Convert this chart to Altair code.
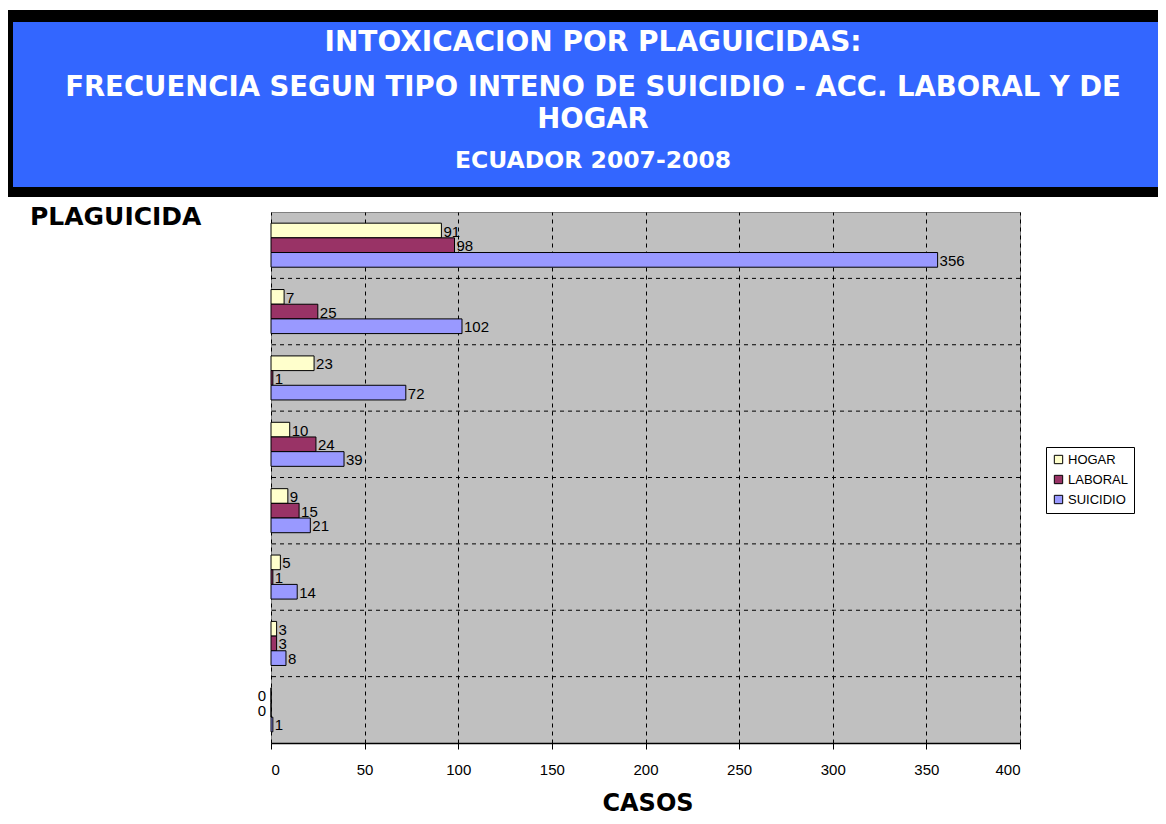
import altair as alt
import pandas as pd

categorias = ["P1", "P2", "P3", "P4", "P5", "P6", "P7", "P8"]
series = ["HOGAR", "LABORAL", "SUICIDIO"]
hogar = [91, 7, 23, 10, 9, 5, 3, 0]
laboral = [98, 25, 1, 24, 15, 1, 3, 0]
suicidio = [356, 102, 72, 39, 21, 14, 8, 1]
x_ticks = [0, 50, 100, 150, 200, 250, 300, 350, 400]

titulo = [
    "INTOXICACION POR PLAGUICIDAS:",
    "FRECUENCIA SEGUN TIPO INTENO DE SUICIDIO - ACC. LABORAL Y DE",
    "HOGAR",
    "ECUADOR 2007-2008",
]

rows = []
for serie, vals in zip(series, [hogar, laboral, suicidio]):
    for c, v in zip(categorias, vals):
        rows.append({"cat": c, "serie": serie, "valor": v})
df = pd.DataFrame(rows)

FONT = "Liberation Sans"
TFONT = "DejaVu Sans"

y_enc = alt.Y("cat:N", scale=alt.Scale(domain=categorias, paddingInner=0, paddingOuter=0), axis=None)
yoff_enc = alt.YOffset("serie:N", scale=alt.Scale(domain=series, paddingInner=0, paddingOuter=0.76))
x_enc = alt.X(
    "valor:Q",
    scale=alt.Scale(domain=[0, 400], nice=False),
    axis=alt.Axis(
        values=x_ticks, grid=True, gridColor="black", gridDash=[4, 4], gridWidth=1,
        domainColor="black", domainWidth=1.5, tickColor="black", tickSize=6,
        labelFont=FONT, labelFontSize=15, labelColor="black", labelPadding=13,
        title=None,
    ),
)

one = alt.Data(values=[{}])

frame = alt.Chart(one).mark_rect(fill="black").encode(
    x=alt.value(-263), x2=alt.value(890), y=alt.value(-202), y2=alt.value(-15))
blue = alt.Chart(one).mark_rect(fill="#3366FF").encode(
    x=alt.value(-258), x2=alt.value(890), y=alt.value(-190), y2=alt.value(-25))

def ttext(txt, y, size, weight="bold"):
    return alt.Chart(one).mark_text(
        text=txt, font=TFONT, fontSize=size, fontWeight=weight, color="white",
        align="center", baseline="middle").encode(x=alt.value(322), y=alt.value(y))

t1 = ttext(titulo[0], -169, 28)
t2 = ttext(titulo[1], -124, 27.5)
t3 = ttext(titulo[2], -92, 27.5)
t4 = ttext(titulo[3], -51, 23.5)

plag = alt.Chart(one).mark_text(
    text="PLAGUICIDA", font=TFONT, fontSize=25, fontWeight="bold", color="black",
    align="left", baseline="middle").encode(x=alt.value(-241), y=alt.value(5))
casos = alt.Chart(one).mark_text(
    text="CASOS", font=TFONT, fontSize=24, fontWeight="bold", color="black",
    align="center", baseline="middle").encode(x=alt.value(377), y=alt.value(592))

hrules = alt.Chart(pd.DataFrame({"cat": categorias[1:]})).mark_rule(
    color="black", strokeDash=[4, 4], strokeWidth=1).encode(
    y=alt.Y("cat:N", bandPosition=0, scale=alt.Scale(domain=categorias, paddingInner=0, paddingOuter=0), axis=None))

bars = alt.Chart(df).mark_bar(stroke="black", strokeWidth=1).encode(
    x=x_enc, y=y_enc, yOffset=yoff_enc,
    color=alt.Color("serie:N", scale=alt.Scale(domain=series, range=["#FFFFCC", "#993366", "#9999FF"]),
                    legend=alt.Legend(title=None)),
)

labels = alt.Chart(df).transform_filter("datum.valor > 0").mark_text(
    align="left", baseline="middle", dx=2, dy=1, font=FONT, fontSize=15, color="black").encode(
    x="valor:Q", y=y_enc, yOffset=yoff_enc, text="valor:Q")
zlabels = alt.Chart(df).transform_filter("datum.valor == 0").mark_text(
    align="right", baseline="middle", dx=-5, dy=1, font=FONT, fontSize=15, color="black").encode(
    x="valor:Q", y=y_enc, yOffset=yoff_enc, text="valor:Q")

chart = alt.layer(frame, blue, t1, t2, t3, t4, plag, casos, hrules, bars, labels, zlabels).properties(
    width=749, height=531,
    autosize=alt.AutoSizeParams(type="none"),
    padding={"left": 263, "top": 204, "right": 138, "bottom": 76},
    background="white",
).configure_view(
    fill="#C0C0C0", stroke="#808080", strokeWidth=1,
).configure_legend(
    orient="none", legendX=775, legendY=235, fillColor="white", strokeColor="black",
    padding=6, labelFont=FONT, labelFontSize=13, labelColor="black",
    symbolType="square", symbolSize=70, symbolStrokeColor="black", symbolStrokeWidth=1,
    rowPadding=6, labelOffset=3,
)

chart.save("out.html", embed_options={"renderer": "svg", "actions": False})
